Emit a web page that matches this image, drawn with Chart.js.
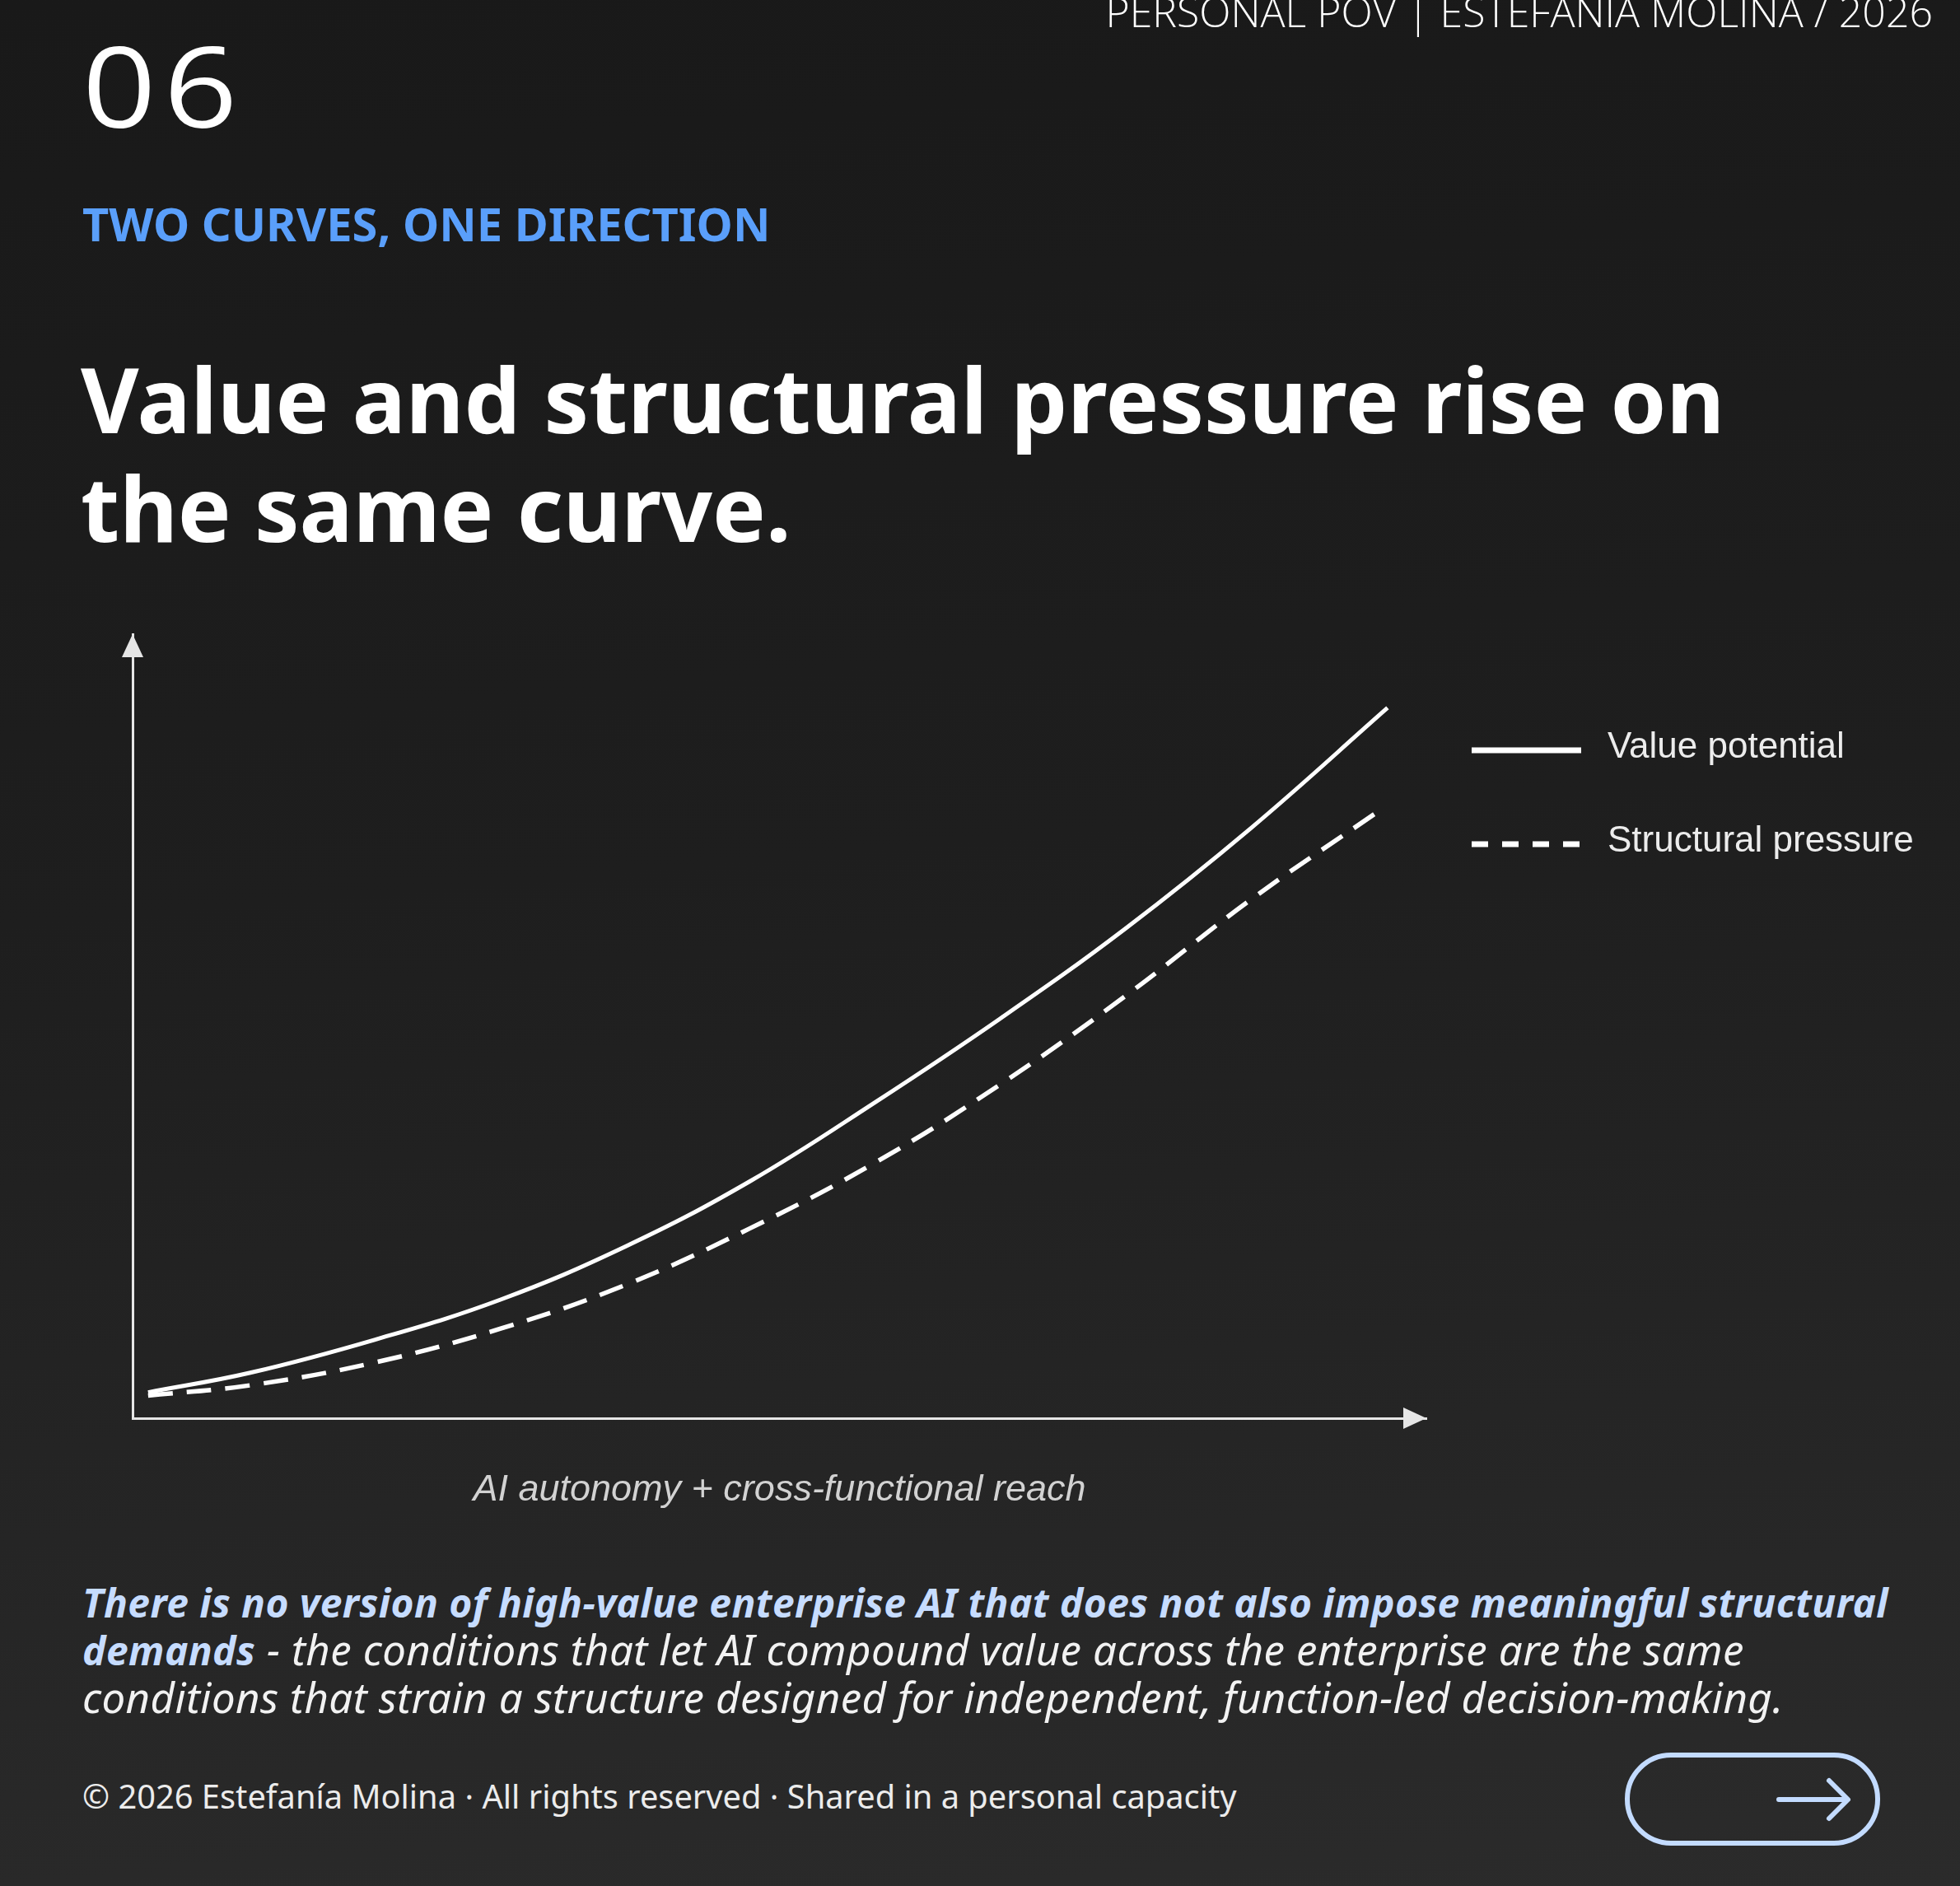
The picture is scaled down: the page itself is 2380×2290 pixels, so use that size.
<!DOCTYPE html>
<html>
<head>
<meta charset="utf-8">
<script src="https://cdn.jsdelivr.net/npm/chart.js@4.4.1/dist/chart.umd.min.js"></script>
<style>
  html, body { margin: 0; padding: 0; }
  body {
    width: 2380px; height: 2290px; overflow: hidden; position: relative;
    background: linear-gradient(175deg, #191919 0%, #1e1e1e 45%, #252525 75%, #2b2b2b 100%);
    font-family: "Noto Sans", "Open Sans", sans-serif;
    color: #fff;
  }
  .abs { position: absolute; white-space: nowrap; }
  #header { right: 33px; top: -11px; font-family: "Open Sans"; font-weight: 300; font-size: 50px; line-height: 1; }
  #num { left: 100px; top: 36px; font-family: "Open Sans"; font-weight: 400; font-size: 135px; line-height: 1; letter-spacing: 8px; transform: scaleX(1.16); transform-origin: left top; }
  #kicker { left: 100px; top: 243px; font-weight: 700; font-size: 56px; line-height: 1; color: #5a9ffb; }
  #title { left: 98px; top: 418px; font-weight: 700; font-size: 108.7px; line-height: 132px; }
  #para { left: 100px; top: 1916px; font-style: italic; font-size: 51px; line-height: 56px; letter-spacing: 0.4px; color: #f2f2f2; }
  #para b { color: #c6dcff; font-weight: 700; font-size: 48px; }
  #foot { left: 100px; top: 2161px; font-size: 39.8px; line-height: 1; color: #ececec; }
  #btn { left: 1973px; top: 2128px; }
  #chartwrap { position: absolute; left: 0; top: 700px; width: 2380px; height: 1140px; }
</style>
</head>
<body>
<div id="header" class="abs">PERSONAL POV | ESTEFANIA MOLINA / 2026</div>
<div id="num" class="abs">06</div>
<div id="kicker" class="abs">TWO CURVES, ONE DIRECTION</div>
<div id="title" class="abs">Value and structural pressure rise on<br>the same curve.</div>

<div id="chartwrap"><canvas id="curves" width="2380" height="1140"></canvas></div>

<div id="para" class="abs"><b>There is no version of high-value enterprise AI that does not also impose meaningful structural<br>demands</b> - the conditions that let AI compound value across the enterprise are the same<br>conditions that strain a structure designed for independent, function-led decision-making.</div>
<div id="foot" class="abs">© 2026 Estefanía Molina · All rights reserved · Shared in a personal capacity</div>
<svg id="btn" class="abs" width="310" height="115" viewBox="0 0 310 115">
  <rect x="3" y="3" width="304" height="107" rx="53" fill="none" stroke="#c3dbff" stroke-width="6"/>
  <path d="M187 57 H270 M248 34 L271 57 L248 80" fill="none" stroke="#c3dbff" stroke-width="6" stroke-linecap="round" stroke-linejoin="round"/>
</svg>

<script>
// curve readings (x = AI autonomy + reach, y = level), 0-100 scale
const valueX = [1.2, 9.1, 18.7, 28.4, 38.1, 47.7, 57.4, 67.0, 76.7, 86.4, 97.0];
const valueY = [3.3, 5.8, 10.0, 15.1, 21.9, 30.2, 40.3, 50.9, 62.4, 75.2, 90.6];
const pressureX = [1.2, 9.1, 18.7, 28.4, 38.1, 47.7, 57.4, 67.0, 76.7, 86.4, 96.2];
const pressureY = [2.9, 4.2, 7.1, 11.4, 17.0, 24.2, 32.6, 42.5, 53.8, 66.1, 77.3];
const seriesNames = ["Value potential", "Structural pressure"];
const axisTitle = "AI autonomy + cross-functional reach";

const toPoints = (xs, ys) => xs.map((x, i) => ({ x: x, y: ys[i] }));

// arrow heads on both axes + the legend on the right
const chalkDecor = {
    id: "chalkDecor",
    afterDraw(chart) {
        const ctx = chart.ctx;
        const a = chart.chartArea;
        ctx.save();
        ctx.fillStyle = "#e6e6e6";
        ctx.beginPath();
        ctx.moveTo(a.right, a.bottom);
        ctx.lineTo(a.right - 28, a.bottom - 13);
        ctx.lineTo(a.right - 28, a.bottom + 13);
        ctx.closePath();
        ctx.fill();
        ctx.beginPath();
        ctx.moveTo(a.left, a.top);
        ctx.lineTo(a.left - 13, a.top + 28);
        ctx.lineTo(a.left + 13, a.top + 28);
        ctx.closePath();
        ctx.fill();

        // legend
        const lx = a.right + 55;
        const rows = [a.top + 141, a.top + 255];
        chart.data.datasets.forEach((ds, i) => {
            const y = rows[i];
            ctx.strokeStyle = "#ffffff";
            ctx.lineWidth = 7;
            ctx.setLineDash(ds.borderDash.length ? [20, 17] : []);
            ctx.beginPath();
            ctx.moveTo(lx, y);
            ctx.lineTo(lx + 133, y);
            ctx.stroke();
            ctx.setLineDash([]);
            ctx.fillStyle = "#ececec";
            ctx.font = "44px 'Liberation Sans', Arial, sans-serif";
            ctx.textBaseline = "middle";
            ctx.fillText(ds.label, lx + 165, y - 3);
        });
        ctx.restore();
    }
};

new Chart(document.getElementById("curves"), {
    type: "line",
    data: {
        datasets: [{
            label: seriesNames[0],
            data: toPoints(valueX, valueY),
            borderColor: "#ffffff",
            borderWidth: 5,
            borderDash: [],
            pointRadius: 0,
            tension: 0.4
        }, {
            label: seriesNames[1],
            data: toPoints(pressureX, pressureY),
            borderColor: "#ffffff",
            borderWidth: 5.5,
            borderDash: [30, 17],
            pointRadius: 0,
            tension: 0.4
        }]
    },
    options: {
        responsive: false,
        animation: false,
        devicePixelRatio: 1,
        layout: {
            padding: { left: 161, top: 70, right: 648, bottom: 4 }
        },
        plugins: {
            legend: { display: false },
            tooltip: { enabled: false }
        },
        scales: {
            x: {
                type: "linear",
                min: 0,
                max: 100,
                grid: { display: false, drawTicks: false },
                border: { display: true, color: "#e6e6e6", width: 3 },
                ticks: { display: false },
                title: {
                    display: true,
                    text: axisTitle,
                    color: "#d2d2d2",
                    font: { family: "'Liberation Sans', Arial, sans-serif", size: 45, style: "italic", lineHeight: 1.2 },
                    padding: { top: 60, bottom: 0 }
                }
            },
            y: {
                type: "linear",
                min: 0,
                max: 100,
                grid: { display: false, drawTicks: false },
                border: { display: true, color: "#e6e6e6", width: 3 },
                ticks: { display: false }
            }
        }
    },
    plugins: [chalkDecor]
})
</script>
</body>
</html>
